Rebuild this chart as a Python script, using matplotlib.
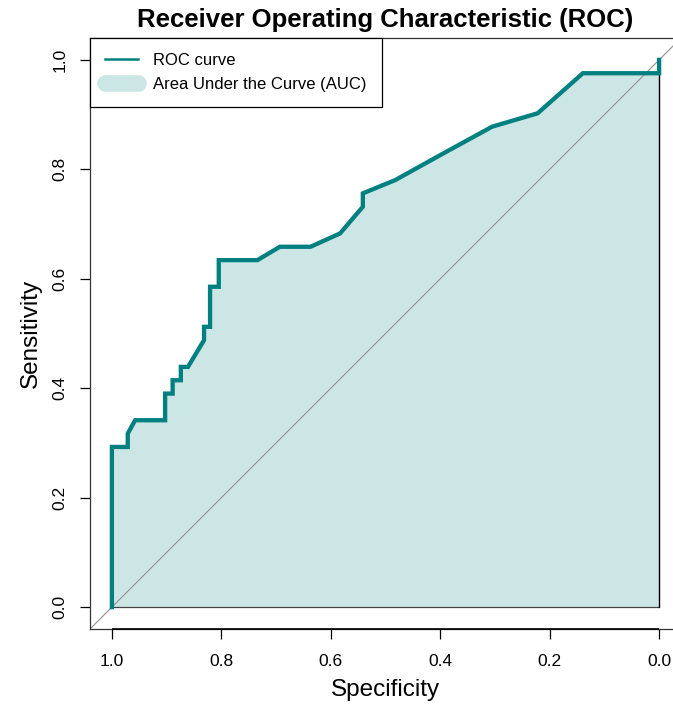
import matplotlib
matplotlib.use("Agg")
import matplotlib.pyplot as plt
from matplotlib.lines import Line2D

plt.rcParams['font.family'] = ['Liberation Sans', 'DejaVu Sans']

# ROC curve points (specificity, sensitivity)
specificity = [1.0, 1.0, 0.971, 0.971, 0.9575, 0.9027, 0.9027, 0.889, 0.889,
               0.874, 0.874, 0.861, 0.8316, 0.8316, 0.8206, 0.8206, 0.8047,
               0.8047, 0.734, 0.693, 0.637, 0.583, 0.5414, 0.5414, 0.482,
               0.394, 0.305, 0.222, 0.1393, 0.0, 0.0]
sensitivity = [0.0, 0.2927, 0.2927, 0.3171, 0.3415, 0.3415, 0.3902, 0.3902,
               0.4146, 0.4146, 0.439, 0.439, 0.4878, 0.5122, 0.5122, 0.5854,
               0.5854, 0.6341, 0.6341, 0.6585, 0.6585, 0.6829, 0.7317, 0.7561,
               0.7805, 0.8293, 0.878, 0.9024, 0.9756, 0.9756, 1.0]

teal = '#008080'
fill_col = '#cce6e5'

fig = plt.figure(figsize=(6.73, 7.04), dpi=100)
ax = fig.add_axes([90 / 673, 75 / 704, 591 / 673, 591 / 704])

# area under curve polygon
poly_x = specificity + [0.0, 1.0]
poly_y = sensitivity + [0.0, 0.0]
ax.fill(poly_x, poly_y, color=fill_col, zorder=1)
ax.plot([0.0, 0.0, 1.0], [0.975, 0.0, 0.0], color='#444444', lw=0.9, zorder=2)
ax.plot([0.0, 0.0], [0.0, 0.975], color='black', lw=0.9, zorder=2)

# chance diagonal
ax.plot([1.1, -0.1], [-0.1, 1.1], color='#999999', lw=0.9, zorder=2)

ax.plot(specificity, sensitivity, color=teal, lw=3.1, zorder=3,
        solid_joinstyle='miter')

ax.set_xlim(1.04, -0.04)
ax.set_ylim(-0.04, 1.04)

ticks = [0.0, 0.2, 0.4, 0.6, 0.8, 1.0]
ax.set_xticks(ticks)
ax.set_xticklabels([f'{t:.1f}' for t in ticks])
ax.set_yticks(ticks)
ax.set_yticklabels([f'{t:.1f}' for t in ticks], rotation=90, va='center')
ax.tick_params(axis='both', direction='out', length=7, width=0.9,
               labelsize=12.5, color='black')
ax.tick_params(axis='x', pad=11)
ax.tick_params(axis='y', pad=9)

for s in ax.spines.values():
    s.set_linewidth(0.9)
    s.set_color('#333333')

# black axis line on the bottom between the ticks
ax.plot([1.0, 0.0], [-0.04, -0.04], color='black', lw=1.2, clip_on=False,
        zorder=5, solid_capstyle='butt')

ax.set_xlabel('Specificity', fontsize=17.5, labelpad=7)
ax.set_ylabel('Sensitivity', fontsize=17.5, labelpad=8)
ax.set_title('Receiver Operating Characteristic (ROC)', fontsize=18.5,
             fontweight='bold', pad=8)

handles = [Line2D([0], [0], color=teal, lw=1.8),
           Line2D([0], [0], color=fill_col, lw=12, solid_capstyle='round')]
leg = ax.legend(handles, ['ROC curve', 'Area Under the Curve (AUC)'],
                loc='upper left', borderaxespad=0, fontsize=12.0,
                fancybox=False, framealpha=1, edgecolor='black',
                handlelength=2.0, handletextpad=0.9, borderpad=0.9,
                labelspacing=0.55)
leg.get_frame().set_linewidth(0.9)

fig.savefig('out.png', dpi=100)
